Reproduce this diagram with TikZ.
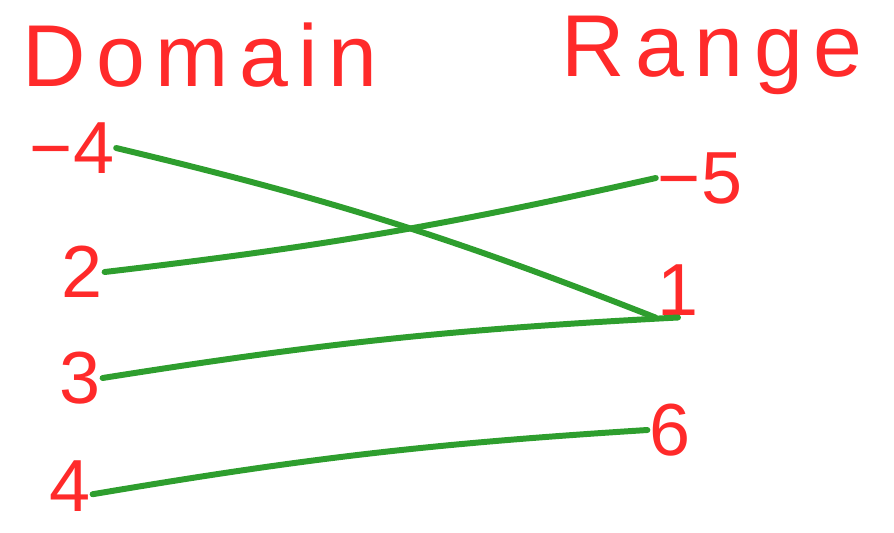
\documentclass[tikz,border=0pt]{standalone}
\usepackage{fontspec}
\setmainfont{Liberation Sans}
\usepackage{tikz}
\usetikzlibrary{positioning}
\definecolor{figRed}{HTML}{FF2A2A}
\definecolor{figGreen}{HTML}{2E9E2E}

\begin{document}
\begin{tikzpicture}[x=0.02cm, y=-0.02cm,
  every node/.style={text=figRed, inner sep=1pt},
  head/.style={font=\fontsize{50}{54}\selectfont\addfontfeatures{LetterSpace=12}},
  val/.style={font=\fontsize{42}{46}\selectfont},
  link/.style={figGreen, line width=3.4pt, line cap=round},
]
\useasboundingbox (0,0) rectangle (894,532);

% Titles
\node[head] (dom) at (200,55) {Domain};
\node[head] (ran) at (712,55) {Range};

% Left column: domain
\node[val] (dm4) at (72,148) {−4};
\node[val] (d2) at (82,272) {2};
\node[val] (d3) at (80,378) {3};
\node[val] (d4) at (70,486) {4};

% Right column: range
\node[val] (rm5) at (700,178) {−5};
\node[val] (r1) at (678,290) {1};
\node[val] (r6) at (670,430) {6};

% Links
\draw[link] (dm4.east) to[bend left=4] (r1.south west);
\draw[link] (d2.east) to[bend right=3] (rm5.west);
\draw[link] (d3.east) to[bend left=3] (r1.south);
\draw[link] (d4.-20) to[bend left=3] (r6.west);

\end{tikzpicture}
\end{document}
